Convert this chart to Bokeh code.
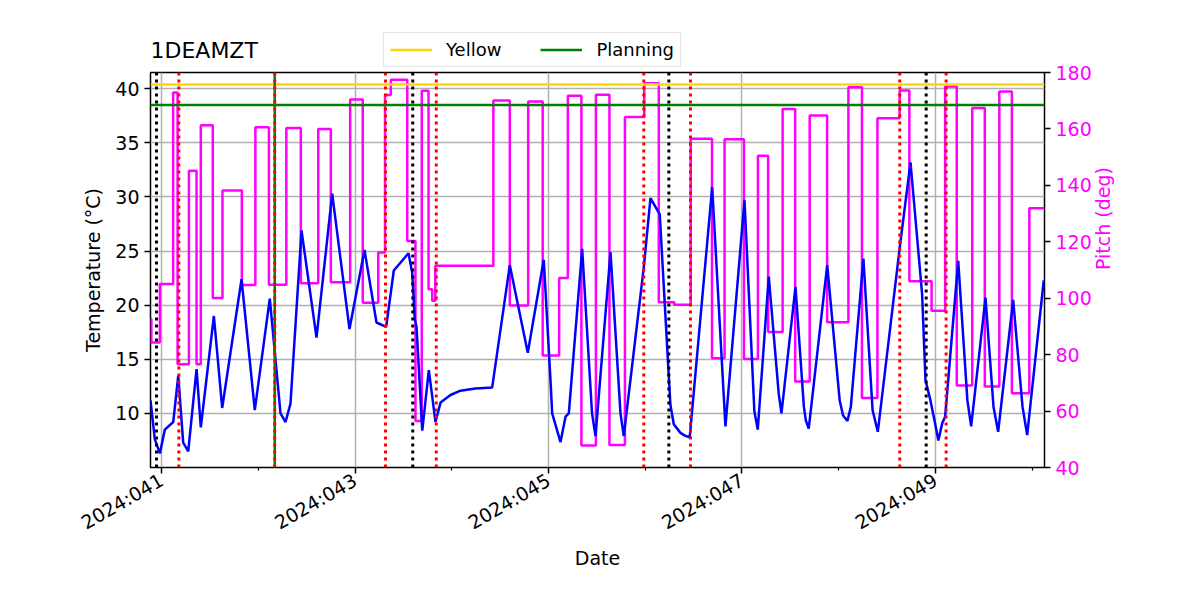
import math
from bokeh.plotting import figure
from bokeh.layouts import column
from bokeh.models import Range1d, LinearAxis, FixedTicker, Span, Legend, LegendItem, Label
from bokeh.embed import file_html
from bokeh.resources import INLINE

# ---- data (day of year 2024, fractional) ----
temp_time = [40.886, 40.931, 40.983, 41.034, 41.121, 41.173, 41.224, 41.276, 41.362, 41.406,
             41.541, 41.627, 41.827, 41.964, 42.119, 42.230, 42.282, 42.333, 42.447, 42.602,
             42.764, 42.943, 43.098, 43.222, 43.322, 43.401, 43.553, 43.591, 43.618, 43.636,
             43.695, 43.763, 43.832, 43.884, 43.987, 44.090, 44.245, 44.418, 44.600, 44.786,
             44.951, 45.021, 45.038, 45.124, 45.176, 45.210, 45.348, 45.450, 45.486, 45.641,
             45.744, 45.778, 45.985, 46.054, 46.150, 46.240, 46.260, 46.295, 46.364, 46.410,
             46.460, 46.692, 46.829, 47.026, 47.128, 47.163, 47.277, 47.380, 47.408, 47.553,
             47.640, 47.660, 47.690, 47.881, 48.010, 48.045, 48.090, 48.125, 48.255, 48.350,
             48.404, 48.631, 48.742, 48.862, 48.897, 48.948, 48.990, 49.030, 49.070, 49.100,
             49.235, 49.330, 49.369, 49.517, 49.600, 49.648, 49.803, 49.900, 49.948, 50.119]
temp_value = [11.2, 7.6, 6.3, 8.5, 9.2, 13.5, 7.3, 6.5, 14.1, 8.7,
              19.0, 10.5, 22.4, 10.3, 20.6, 10.0, 9.2, 10.9, 26.9, 17.0,
              30.3, 17.8, 25.1, 18.4, 18.0, 23.2, 24.8, 23.0, 18.7, 18.0,
              8.4, 14.0, 9.2, 11.0, 11.7, 12.1, 12.3, 12.4, 23.7, 15.6,
              24.2, 13.0, 10.0, 7.35, 9.7, 10.0, 25.2, 10.0, 7.9, 24.9,
              10.0, 7.9, 23.5, 29.9, 28.4, 14.0, 10.8, 9.0, 8.2, 7.95,
              7.8, 30.9, 8.8, 29.7, 10.2, 8.5, 22.65, 11.8, 10.0, 21.7,
              10.6, 9.35, 8.6, 23.7, 11.2, 9.8, 9.3, 10.6, 24.3, 10.3,
              8.3, 25.35, 33.2, 21.0, 13.05, 11.2, 9.35, 7.5, 9.1, 9.7,
              24.1, 11.2, 8.8, 20.7, 10.6, 8.3, 20.5, 10.6, 8.0, 22.3]

pitch_time = [40.886, 40.895, 40.983, 41.120, 41.166, 41.283, 41.362, 41.406, 41.530, 41.630,
              41.830, 41.970, 42.110, 42.290, 42.440, 42.620, 42.750, 42.950, 43.080, 43.240,
              43.310, 43.370, 43.540, 43.625, 43.690, 43.760, 43.798, 43.830, 44.430, 44.600,
              44.790, 44.940, 45.110, 45.200, 45.340, 45.490, 45.630, 45.790, 45.990, 46.140,
              46.300, 46.470, 46.690, 46.820, 47.020, 47.165, 47.270, 47.420, 47.550, 47.700,
              47.880, 48.100, 48.240, 48.400, 48.630, 48.730, 48.960, 49.100, 49.220, 49.380,
              49.510, 49.660, 49.790, 49.970, 50.127]
pitch_value = [92.6, 84.3, 105.0, 172.9, 76.6, 145.2, 76.6, 161.3, 100.1, 138.2,
               104.7, 160.6, 104.8, 160.3, 105.3, 160.0, 105.7, 170.4, 98.4, 116.2,
               172.0, 177.4, 120.3, 56.5, 173.5, 103.2, 99.1, 111.5, 170.1, 97.4,
               169.7, 79.7, 107.2, 171.8, 47.8, 172.1, 48.0, 164.2, 176.2, 98.6,
               97.7, 156.5, 78.7, 156.3, 78.5, 150.5, 88.0, 167.1, 70.5, 164.8,
               91.5, 174.8, 64.6, 163.8, 173.6, 106.0, 95.6, 175.0, 69.1, 167.4,
               68.7, 173.3, 66.3, 131.9, 131.9]

yellow_limit = 40.4
planning_limit = 38.5
black_events = [40.948, 43.597, 46.244, 48.904]
red_events = [41.179, 42.170, 43.315, 43.840, 45.985, 46.468, 48.631, 49.110]
green_events = [42.170]

x_start, x_end = 40.886, 50.127
temp_min, temp_max = 5.0, 41.5
pitch_min, pitch_max = 40, 180

x_ticks = [41, 43, 45, 47, 49]
x_tick_labels = ["2024:041", "2024:043", "2024:045", "2024:047", "2024:049"]
x_minor_ticks = [42, 44, 46, 48, 50]
temp_ticks = [10, 15, 20, 25, 30, 35, 40]
pitch_ticks = [40, 60, 80, 100, 120, 140, 160, 180]

title_text = "1DEAMZT"
legend_labels = ["Yellow", "Planning"]

FONT = "DejaVu Sans"
FS = "19px"
W = 1184
HEADER_H = 70
OVERLAP = 10

# ---------------- header (title + legend) ----------------
header = figure(width=W, height=HEADER_H, output_backend="svg", toolbar_location=None,
                x_range=Range1d(x_start, x_end), y_range=Range1d(50, 60),
                x_axis_location=None, y_axis_location=None,
                min_border_left=0, min_border_right=0, min_border_top=0, min_border_bottom=0)
header.grid.visible = False
header.outline_line_color = None
header.background_fill_color = "white"
header.border_fill_color = "white"

header.add_layout(Label(x=0, y=20, x_units="screen", y_units="screen", text=title_text,
                        text_font=FONT, text_font_size="22px", text_color="black",
                        text_baseline="alphabetic", text_align="left"))

# legend proxies: the two limit levels (outside the header's visible range)
r_yellow = header.line(x=[x_start, x_end], y=[yellow_limit, yellow_limit],
                       line_color="gold", line_width=2.5)
r_plan = header.line(x=[x_start, x_end], y=[planning_limit, planning_limit],
                     line_color="green", line_width=2.5)
legend = Legend(items=[LegendItem(label=legend_labels[0], renderers=[r_yellow]),
                       LegendItem(label=legend_labels[1], renderers=[r_plan])],
                location=(233, 3), orientation="horizontal", margin=0,
                padding=6, spacing=39, glyph_width=42, glyph_height=19,
                label_standoff=14, label_height=19,
                label_text_font=FONT, label_text_font_size="18px", label_text_color="black",
                border_line_color="#cccccc", border_line_width=1.2,
                background_fill_color="white", background_fill_alpha=0.8)
header.add_layout(legend)

# ---------------- main plot ----------------
p = figure(width=W, height=584 - HEADER_H + OVERLAP, output_backend="svg", toolbar_location=None,
           x_range=Range1d(x_start, x_end), y_range=Range1d(temp_min, temp_max),
           min_border_left=150, min_border_right=140, min_border_top=2 + OVERLAP,
           min_border_bottom=117, title=None)
p.margin = (-OVERLAP, 0, 0, 0)
p.background_fill_color = "white"
p.border_fill_color = "white"
p.border_fill_alpha = 0.0
p.outline_line_color = "black"
p.outline_line_width = 1.5

p.extra_y_ranges = {"pitch": Range1d(pitch_min, pitch_max)}

p.xgrid.ticker = FixedTicker(ticks=x_ticks)
p.ygrid.ticker = FixedTicker(ticks=temp_ticks)
for g in (p.xgrid, p.ygrid):
    g.grid_line_color = "#b0b0b0"
    g.grid_line_width = 1.5

xa = p.xaxis[0]
xa.ticker = FixedTicker(ticks=x_ticks, minor_ticks=x_minor_ticks)
xa.major_label_overrides = dict(zip(x_ticks, x_tick_labels))
xa.major_label_orientation = math.pi / 6
xa.axis_label = "Date"

ya = p.yaxis[0]
ya.ticker = FixedTicker(ticks=temp_ticks)
ya.axis_label = "Temperature (°C)"

ra = LinearAxis(y_range_name="pitch", ticker=FixedTicker(ticks=pitch_ticks),
                axis_label="Pitch (deg)")
p.add_layout(ra, "right")

for ax in (xa, ya, ra):
    ax.axis_line_color = None
    ax.major_tick_line_color = "black"
    ax.major_tick_line_width = 1.5
    ax.major_tick_out = 6
    ax.major_tick_in = 0
    ax.minor_tick_out = 3
    ax.minor_tick_in = 0
    ax.minor_tick_line_width = 1.2
    ax.major_label_text_font = FONT
    ax.major_label_text_font_size = FS
    ax.major_label_text_color = "black"
    ax.axis_label_text_font = FONT
    ax.axis_label_text_font_size = FS
    ax.axis_label_text_font_style = "normal"
    ax.axis_label_text_color = "black"
    ax.major_label_standoff = 5
    ax.axis_label_standoff = 8
ra.axis_label_text_color = "magenta"
ra.major_label_text_color = "magenta"
xa.axis_label_standoff = 1
ra.axis_label_standoff = 8
ra.axis_label_orientation = math.pi / 2
ya.minor_tick_line_color = None
ra.minor_tick_line_color = None
xa.minor_tick_line_color = "black"

p.step(x=pitch_time, y=pitch_value, mode="after", y_range_name="pitch",
       line_color="magenta", line_width=2.5)
p.line(x=temp_time, y=temp_value, line_color="blue", line_width=2.5)

p.add_layout(Span(location=yellow_limit, dimension="width", line_color="gold", line_width=2.5))
p.add_layout(Span(location=planning_limit, dimension="width", line_color="green", line_width=2.5))
for t in green_events:
    p.add_layout(Span(location=t, dimension="height", line_color="green", line_width=2.5))
for t in black_events:
    p.add_layout(Span(location=t, dimension="height", line_color="black", line_width=3,
                      line_dash="3 4"))
for t in red_events:
    p.add_layout(Span(location=t, dimension="height", line_color="red", line_width=3,
                      line_dash="3 4"))

layout = column(header, p, spacing=0)
open("out.html", "w").write(file_html(layout, INLINE))
